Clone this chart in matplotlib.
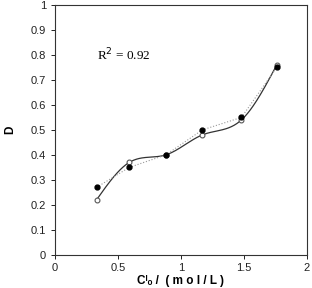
import numpy as np
import matplotlib.pyplot as plt

# data
conc = [0.33, 0.59, 0.88, 1.17, 1.48, 1.76]
d_open = [0.22, 0.37, 0.40, 0.48, 0.54, 0.76]
d_filled = [0.27, 0.35, 0.40, 0.50, 0.55, 0.75]
x_ticks = [0, 0.5, 1, 1.5, 2]
x_tick_labels = ['0', '0.5', '1', '1.5', '2']
y_ticks = [0, 0.1, 0.2, 0.3, 0.4, 0.5, 0.6, 0.7, 0.8, 0.9, 1]
y_tick_labels = ['0', '0.1', '0.2', '0.3', '0.4', '0.5', '0.6', '0.7', '0.8', '0.9', '1']


def natural_spline(x, y, n=200):
    """smooth curve through the points (natural cubic spline)"""
    x = np.asarray(x, float)
    y = np.asarray(y, float)
    k = len(x)
    h = np.diff(x)
    A = np.zeros((k, k))
    r = np.zeros(k)
    A[0, 0] = A[-1, -1] = 1
    for i in range(1, k - 1):
        A[i, i - 1] = h[i - 1]
        A[i, i] = 2 * (h[i - 1] + h[i])
        A[i, i + 1] = h[i]
        r[i] = 6 * ((y[i + 1] - y[i]) / h[i] - (y[i] - y[i - 1]) / h[i - 1])
    m = np.linalg.solve(A, r)
    xs = np.linspace(x[0], x[-1], n)
    idx = np.clip(np.searchsorted(x, xs) - 1, 0, k - 2)
    x0, x1 = x[idx], x[idx + 1]
    hh = x1 - x0
    a = (x1 - xs) / hh
    b = (xs - x0) / hh
    ys = a * y[idx] + b * y[idx + 1] + ((a ** 3 - a) * m[idx] + (b ** 3 - b) * m[idx + 1]) * hh ** 2 / 6
    return xs, ys


plt.rcParams['font.family'] = ['Liberation Sans', 'DejaVu Sans']

fig = plt.figure(figsize=(3.12, 2.88), dpi=100)
ax = fig.add_axes([0.176, 0.115, 0.808, 0.868])

xs, ys = natural_spline(conc, d_open)
ax.plot(xs, ys, color='#333333', lw=0.9)
ax.plot(conc, d_filled, color='#999999', lw=0.8, linestyle=':')
ax.plot(conc, d_open, 'o', ms=3.5, mfc='white', mec='#555555', mew=0.8)
ax.plot(conc, d_filled, 'o', ms=3.5, mfc='black', mec='black')

ax.text(0.33, 0.8, 'R$^2$ = 0.92', family='Liberation Serif', fontsize=9.5, va='center')

ax.set_xlim(0, 2)
ax.set_ylim(0, 1)
ax.set_xticks(x_ticks)
ax.set_xticklabels(x_tick_labels)
ax.set_yticks(y_ticks)
ax.set_yticklabels(y_tick_labels)
ax.tick_params(labelsize=8, length=3, width=0.7, colors='#222222')
ax.tick_params(axis='x', pad=3)
for s in ax.spines.values():
    s.set_linewidth(0.8)
    s.set_color('#333333')

ax.set_ylabel('D', fontsize=8.5, fontweight='bold', labelpad=10)
fig.text(0.58, 0.004, 'C\u1d35\u2092 /  ( m o l / L )', fontsize=8.5,
         fontweight='bold', ha='center', va='bottom')

fig.savefig('out.png', dpi=100)
